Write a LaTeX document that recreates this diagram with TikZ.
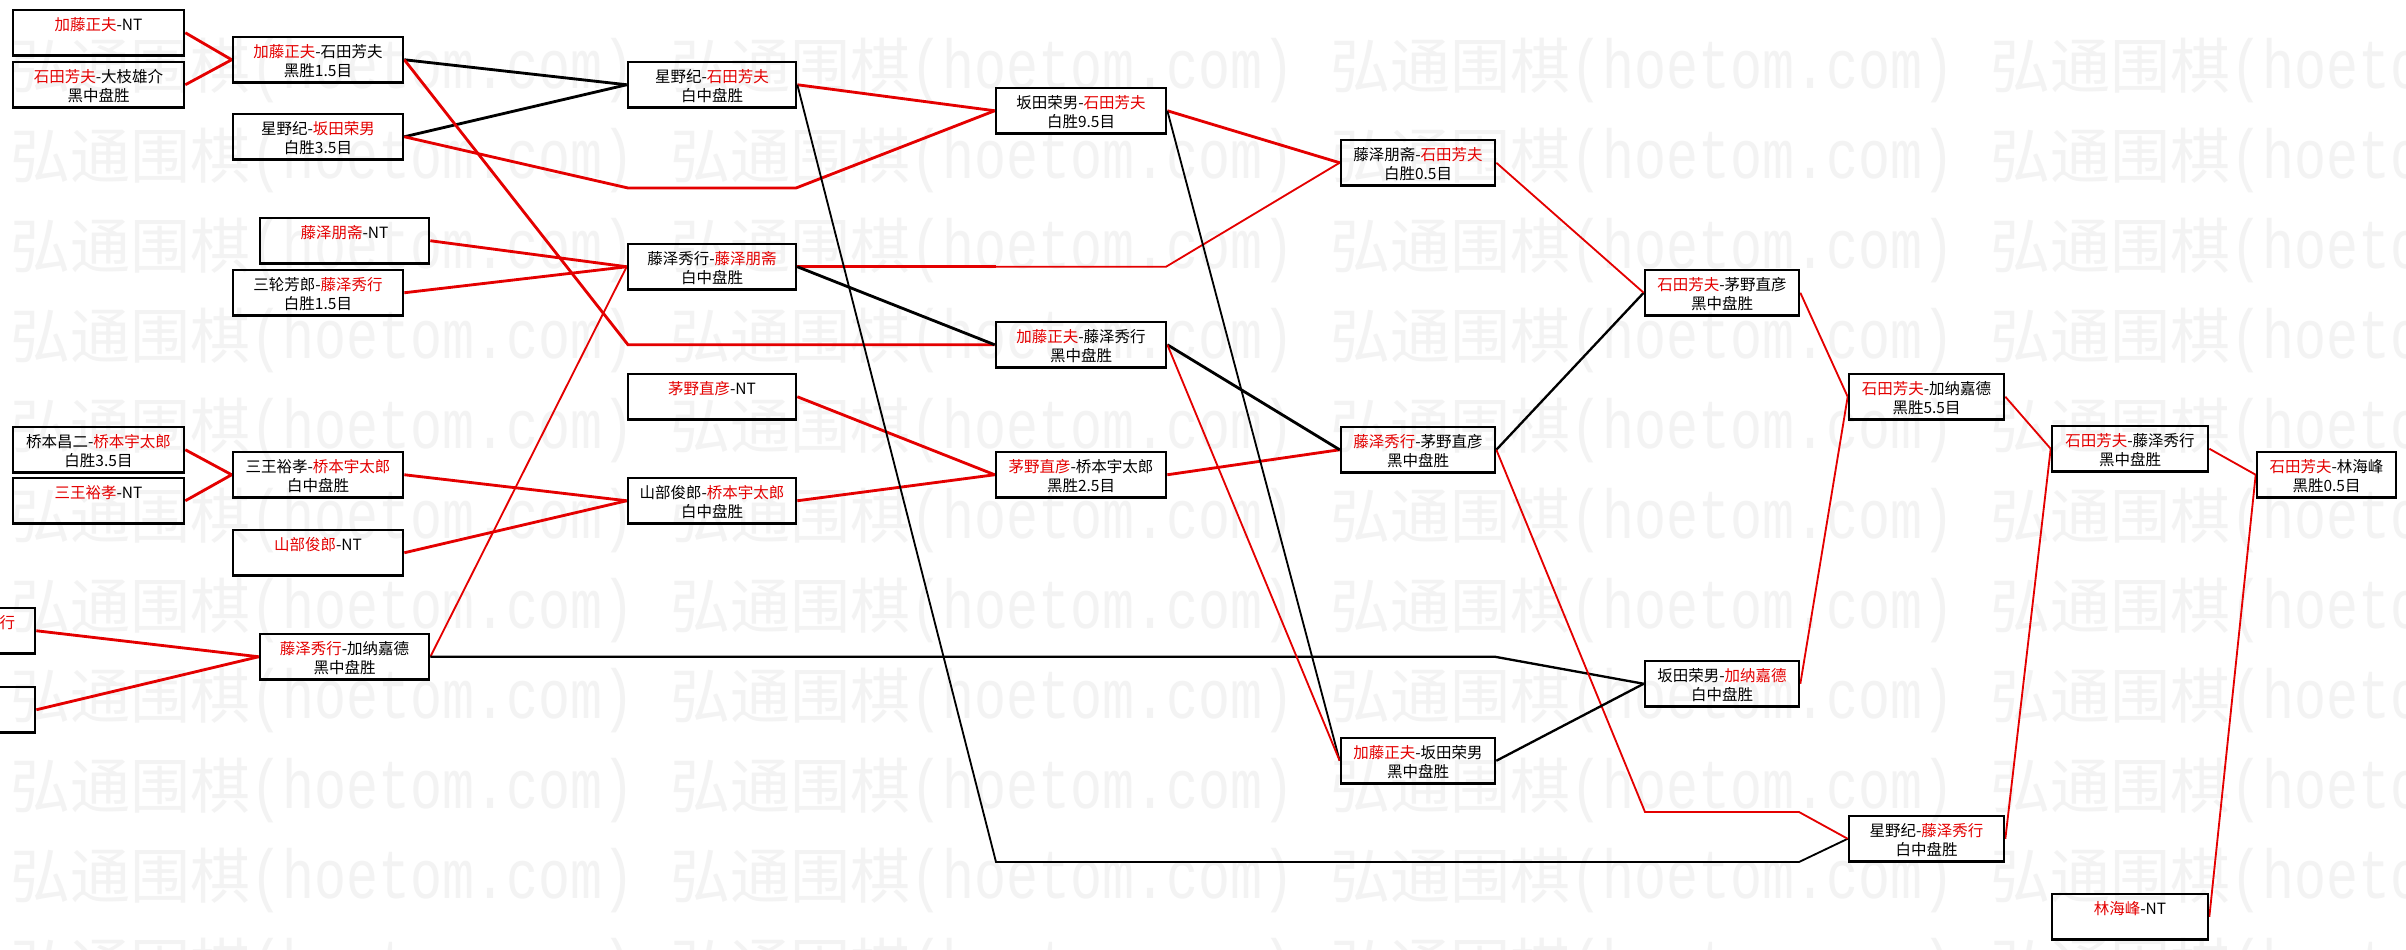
\documentclass[tikz,border=0pt]{standalone}
\usepackage{fontspec}
\usepackage{graphicx}
\setmainfont{Noto Sans CJK SC}
\newfontfamily\wmmono{Liberation Mono}
\usetikzlibrary{backgrounds}
\definecolor{tred}{RGB}{228,0,0}
\definecolor{wmgray}{RGB}{243,243,243}
\newcommand\redt[1]{\textcolor{tred}{#1}}
\newcommand\gla{\rule[-0.5pt]{0pt}{5.3pt}}
\newcommand\glb{\rule[-0.56pt]{0pt}{4.2pt}}
\newcommand\gbx[6]{\node[gbox, minimum width={((#3)-(#2))*0.3pt}] (#1) at ({((#2)+(#3))/2},{(#4)+22.75}) {\gla#5\\\glb#6};}
\tikzset{
  gbox/.style={draw=black, line width=0.8pt, rectangle, inner sep=0.5pt, minimum height=13.65pt, align=center, font=\fontsize{4.65pt}{5.85pt}\selectfont, text=black},
  gtext/.style={inner sep=0pt, font=\fontsize{4.65pt}{5.85pt}\selectfont},
  wm/.style={inner sep=0pt, anchor=base west, text=wmgray, font=\fontsize{18pt}{20pt}\selectfont},
  rl/.style={draw=tred},
  bl/.style={draw=black},
  thk/.style={line width=0.85pt},
  mid/.style={line width=0.7pt},
  thn/.style={line width=0.55pt}
}
\begin{document}
\begin{tikzpicture}[x=0.3pt, y=-0.3pt]
\useasboundingbox (0,0) rectangle (2406,949);
\clip (0,0) rectangle (2406,949);
% watermark
\begin{pgfonlayer}{background}
\fill[white] (0,0) rectangle (2406,949);
\foreach \k in {0,...,10}{\foreach \j in {0,...,3}{
  \node[wm] (wm-\k-\j) at ({10+660*\j},{88+90*\k}) {弘通围棋\scalebox{1}[1.3]{\wmmono\fontsize{16pt}{18pt}\selectfont (hoetom.com)}};
}}
\end{pgfonlayer}
% column 1
\gbx{n1}{13}{184}{10}{\redt{加藤正夫}-NT}{}
\gbx{n2}{13}{184}{62}{\redt{石田芳夫}-大枝雄介}{黑中盘胜}
\gbx{n3}{13}{184}{427}{桥本昌二-\redt{桥本宇太郎}}{白胜3.5目}
\gbx{n4}{13}{184}{478}{\redt{三王裕孝}-NT}{}
\gbx{p1}{-135}{35}{608}{}{}
\gbx{p2}{-135}{35}{687}{}{}
\node[gtext] (p1t) at (7.5,622.5) {\redt{行}};
% column 2
\gbx{n5}{233}{403}{37}{\redt{加藤正夫}-石田芳夫}{黑胜1.5目}
\gbx{n6}{233}{403}{114}{星野纪-\redt{坂田荣男}}{白胜3.5目}
\gbx{n7}{260}{429}{218}{\redt{藤泽朋斋}-NT}{}
\gbx{n8}{233}{403}{270}{三轮芳郎-\redt{藤泽秀行}}{白胜1.5目}
\gbx{n9}{233}{403}{452}{三王裕孝-\redt{桥本宇太郎}}{白中盘胜}
\gbx{n10}{233}{403}{530}{\redt{山部俊郎}-NT}{}
\gbx{n11}{260}{429}{634}{\redt{藤泽秀行}-加纳嘉德}{黑中盘胜}
% column 3
\gbx{n12}{628}{796}{62}{星野纪-\redt{石田芳夫}}{白中盘胜}
\gbx{n13}{628}{796}{244}{藤泽秀行-\redt{藤泽朋斋}}{白中盘胜}
\gbx{n14}{628}{796}{374}{\redt{茅野直彦}-NT}{}
\gbx{n15}{628}{796}{478}{山部俊郎-\redt{桥本宇太郎}}{白中盘胜}
% column 4
\gbx{n16}{996}{1166}{88}{坂田荣男-\redt{石田芳夫}}{白胜9.5目}
\gbx{n17}{996}{1166}{322}{\redt{加藤正夫}-藤泽秀行}{黑中盘胜}
\gbx{n18}{996}{1166}{452}{\redt{茅野直彦}-桥本宇太郎}{黑胜2.5目}
% column 5
\gbx{n19}{1341}{1495}{140}{藤泽朋斋-\redt{石田芳夫}}{白胜0.5目}
\gbx{n20}{1341}{1495}{427}{\redt{藤泽秀行}-茅野直彦}{黑中盘胜}
\gbx{n21}{1341}{1495}{738}{\redt{加藤正夫}-坂田荣男}{黑中盘胜}
% column 6
\gbx{n22}{1645}{1799}{270}{\redt{石田芳夫}-茅野直彦}{黑中盘胜}
\gbx{n23}{1645}{1799}{661}{坂田荣男-\redt{加纳嘉德}}{白中盘胜}
% column 7
\gbx{n24}{1849}{2004}{374}{\redt{石田芳夫}-加纳嘉德}{黑胜5.5目}
\gbx{n25}{1849}{2004}{816}{星野纪-\redt{藤泽秀行}}{白中盘胜}
% column 8
\gbx{n26}{2052}{2208}{426}{\redt{石田芳夫}-藤泽秀行}{黑中盘胜}
\gbx{n27}{2052}{2208}{894}{\redt{林海峰}-NT}{}
% column 9
\gbx{n28}{2257}{2396}{452}{\redt{石田芳夫}-林海峰}{黑胜0.5目}
% bend points
\coordinate (b1) at (628,188);
\coordinate (b2) at (796,188);
\coordinate (b3) at (628,344.75);
\coordinate (b4) at (996,266.75);
\coordinate (b5) at (1166,266.75);
\coordinate (b6) at (1495,656.75);
\coordinate (b7) at (996,862);
\coordinate (b8) at (1799,862);
\coordinate (b9) at (1645,812);
\coordinate (b10) at (1799,812);
% connectors
\begin{pgfonlayer}{background}
\draw[rl,thk] (n1.east) -- (n5.west);
\draw[rl,thk] (n2.east) -- (n5.west);
\draw[bl,thk] (n5.east) -- (n12.west);
\draw[bl,thk] (n6.east) -- (n12.west);
\draw[rl,thk] (n6.east) -- (b1) -- (b2) -- (n16.west);
\draw[rl,thk] (n5.east) -- (b3) -- (n17.west);
\draw[rl,thk] (n7.east) -- (n13.west);
\draw[rl,thk] (n8.east) -- (n13.west);
\draw[rl,thk] (n12.east) -- (n16.west);
\draw[rl,thk] (n16.east) -- (n19.west);
\draw[rl,thk] (n13.east) -- (b4);
\draw[rl,thn] (b4) -- (b5) -- (n19.west);
\draw[bl,thk] (n13.east) -- (n17.west);
\draw[rl,thk] (n3.east) -- (n9.west);
\draw[rl,thk] (n4.east) -- (n9.west);
\draw[rl,thk] (n9.east) -- (n15.west);
\draw[rl,thk] (n10.east) -- (n15.west);
\draw[rl,thk] (p1.east) -- (n11.west);
\draw[rl,thk] (p2.east) -- (n11.west);
\draw[rl,thk] (n14.east) -- (n18.west);
\draw[rl,thk] (n15.east) -- (n18.west);
\draw[rl,thk] (n18.east) -- (n20.west);
\draw[bl,thk] (n17.east) -- (n20.west);
\draw[bl,mid] (n20.east) -- (n22.west);
\draw[rl,thn] (n11.east) -- (n13.west);
\draw[bl,mid] (n11.east) -- (b6) -- (n23.west);
\draw[bl,thn] (n12.east) -- (b7) -- (b8) -- (n25.west);
\draw[bl,thn] (n16.east) -- (n21.west);
\draw[rl,thn] (n17.east) -- (n21.west);
\draw[rl,thn] (n20.east) -- (b9) -- (b10) -- (n25.west);
\draw[bl,mid] (n21.east) -- (n23.west);
\draw[rl,thn] (n19.east) -- (n22.west);
\draw[rl,thn] (n22.east) -- (n24.west);
\draw[rl,thn] (n23.east) -- (n24.west);
\draw[rl,thn] (n24.east) -- (n26.west);
\draw[rl,thn] (n25.east) -- (n26.west);
\draw[rl,thn] (n26.east) -- (n28.west);
\draw[rl,thn] (n27.east) -- (n28.west);
\end{pgfonlayer}
\end{tikzpicture}
\end{document}
